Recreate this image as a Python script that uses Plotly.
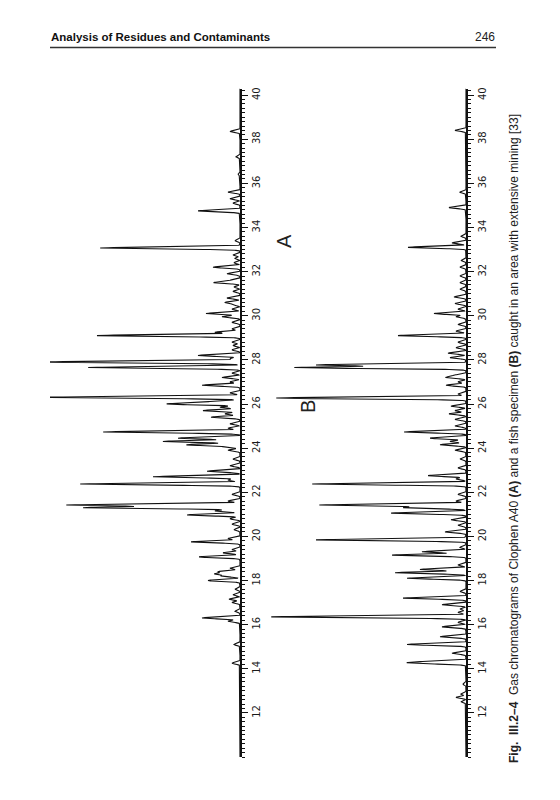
import numpy as np
import plotly.graph_objects as go

# ---- data: peak retention times (min) and peak heights (detector response, arbitrary units)
A_rt = [14.25, 15.1, 16.15, 16.3, 16.6, 17.0, 17.15, 17.35, 17.6, 18.0, 18.2, 18.3, 18.4, 18.55,
        19.07, 19.25, 19.4, 19.75, 19.9, 20.3, 20.55, 20.8, 20.97, 21.15, 21.3, 21.42, 21.6, 21.9,
        22.37, 22.55, 22.7, 22.95, 23.2, 23.5, 23.9, 24.05, 24.15, 24.3, 24.45, 24.73, 24.9, 25.1,
        25.4, 25.55, 25.7, 25.85, 26.0, 26.1, 26.3, 26.5, 26.85, 27.0, 27.2, 27.4, 27.65, 27.9,
        28.05, 28.2, 28.45, 28.65, 28.8, 29.1, 29.25, 29.4, 29.7, 29.95, 30.1, 30.3, 30.5, 30.6,
        30.8, 31.1, 31.3, 31.5, 31.6, 31.9, 32.2, 32.4, 32.6, 32.75, 33.07, 33.4, 34.75, 35.1,
        35.3, 35.6, 36.4, 37.2, 38.35]
A_h = [8, 6, 12, 38, 5, 8, 11, 7, 5, 32, 18, 24, 21, 10,
       41, 17, 8, 49, 12, 6, 8, 10, 53, 25, 155, 172, 12, 8,
       160, 12, 87, 33, 10, 7, 12, 12, 53, 77, 62, 137, 12, 10,
       29, 15, 37, 20, 72, 30, 200, 10, 38, 10, 18, 8, 152, 200,
       10, 42, 8, 7, 8, 143, 25, 8, 8, 18, 34, 8, 7, 15,
       13, 7, 6, 26, 10, 13, 27, 6, 5, 7, 140, 5, 42, 7,
       10, 12, 2, 4, 10]

B_rt = [12.5, 12.7, 12.85, 13.3, 14.25, 14.32, 14.7, 15.1, 15.45, 15.9, 16.1, 16.35, 16.55, 16.7,
        16.9, 17.2, 17.5, 18.1, 18.35, 18.5, 18.7, 19.15, 19.3, 19.5, 19.84, 20.2, 20.5, 20.75,
        21.05, 21.3, 21.42, 21.6, 21.9, 22.37, 22.6, 22.75, 23.1, 23.5, 23.9, 24.15, 24.3, 24.45,
        24.73, 25.0, 25.3, 25.55, 25.7, 25.9, 26.27, 26.45, 26.85, 27.0, 27.2, 27.3, 27.65, 27.77,
        28.1, 28.3, 28.55, 28.8, 29.1, 29.3, 29.6, 29.95, 30.1, 30.3, 30.55, 30.85, 31.2, 31.5,
        31.8, 32.2, 32.5, 33.1, 33.3, 33.6, 34.9, 35.6, 38.4]
B_h = [5, 10, 5, 3, 48, 37, 14, 59, 26, 24, 8, 195, 8, 6,
       24, 63, 6, 59, 71, 46, 8, 74, 44, 6, 150, 21, 8, 15,
       75, 61, 146, 10, 8, 154, 10, 38, 8, 6, 11, 26, 16, 36,
       62, 11, 11, 17, 11, 15, 190, 8, 20, 8, 20, 12, 170, 148,
       16, 18, 10, 8, 68, 10, 8, 10, 32, 8, 11, 12, 6, 6,
       6, 6, 5, 58, 14, 5, 17, 6, 11]

tick_vals = [12, 14, 16, 18, 20, 22, 24, 26, 28, 30, 32, 34, 36, 38, 40]
tick_text = ["12", "14", "16", "18", "20", "22", "24", "26", "28", "30", "32", "34", "36", "38", "40"]

T_MIN, T_MAX = 10.0, 40.3
PEAK_SIGMA = 0.04


def chromatogram(rts, hs):
    t = np.arange(T_MIN, T_MAX, 0.004)
    sig = np.zeros_like(t)
    for rt, h in zip(rts, hs):
        sig += h * np.exp(-0.5 * ((t - rt) / PEAK_SIGMA) ** 2)
    return t, sig


tA, sA = chromatogram(A_rt, A_h)
tB, sB = chromatogram(B_rt, B_h)

W, H = 560, 800
ydom = [(H - 757.0) / H, (H - 88.5) / H]

fig = go.Figure()
fig.add_trace(go.Scatter(x=sA, y=tA, mode="lines", line=dict(color="#111", width=1.1),
                         xaxis="x", yaxis="y", hoverinfo="skip", showlegend=False))
fig.add_trace(go.Scatter(x=sB, y=tB, mode="lines", line=dict(color="#111", width=1.1),
                         xaxis="x2", yaxis="y2", hoverinfo="skip", showlegend=False))

yax = dict(domain=ydom, range=[T_MIN, T_MAX], side="right", showline=True, linecolor="#111",
           linewidth=1.6, ticks="outside", ticklen=6, tickwidth=1.2, tickcolor="#111",
           tickmode="array", tickvals=tick_vals, ticktext=tick_text, tickangle=-90,
           tickfont=dict(family="DejaVu Sans", size=10, color="#1a1a1a"),
           minor=dict(dtick=0.2, tick0=10, ticks="outside", ticklen=3, tickcolor="#111", tickwidth=1),
           showgrid=False, zeroline=False)

fig.update_layout(
    width=W, height=H, margin=dict(l=0, r=0, t=0, b=0),
    paper_bgcolor="white", plot_bgcolor="rgba(0,0,0,0)",
    xaxis=dict(domain=[50 / W, 240 / W], range=[190, 0], visible=False),
    xaxis2=dict(domain=[270 / W, 466 / W], range=[196, 0], visible=False),
    yaxis=dict(anchor="x", **yax),
    yaxis2=dict(anchor="x2", **yax),
)

fig.add_annotation(xref="paper", yref="paper", x=49 / W, y=(H - 37) / H, xanchor="left", yanchor="middle",
                   text="<b>Analysis of Residues and Contaminants</b>", showarrow=False,
                   font=dict(family="Liberation Sans", size=11.5, color="#111"))
fig.add_annotation(xref="paper", yref="paper", x=497 / W, y=(H - 37) / H, xanchor="right", yanchor="middle",
                   text="246", showarrow=False, font=dict(family="Liberation Sans", size=12, color="#222"))
fig.add_shape(type="line", xref="paper", yref="paper", x0=50 / W, x1=496 / W, y0=(H - 47.5) / H,
              y1=(H - 47.5) / H, line=dict(color="#333", width=1.3))

fig.add_annotation(xref="paper", yref="paper", x=284 / W, y=(H - 232) / H, text="A", textangle=-90,
                   showarrow=False, font=dict(family="Liberation Sans", size=20, color="#222"))
fig.add_annotation(xref="paper", yref="paper", x=308 / W, y=(H - 407) / H, text="B", textangle=-90,
                   showarrow=False, font=dict(family="Liberation Sans", size=20, color="#222"))

caption = ("<b>Fig.  III.2\u20134</b>  Gas chromatograms of Clophen A40 <b>(A)</b> and a fish specimen "
           "<b>(B)</b> caught in an area with extensive mining [33]")
fig.add_annotation(xref="paper", yref="paper", x=523 / W, y=(H - 439) / H, text=caption, textangle=-90,
                   showarrow=False, font=dict(family="Liberation Sans", size=12, color="#222"))

fig.write_html("out.html", config={"displayModeBar": False},
               post_script="document.body.style.margin='0';document.body.style.overflow='hidden';")
